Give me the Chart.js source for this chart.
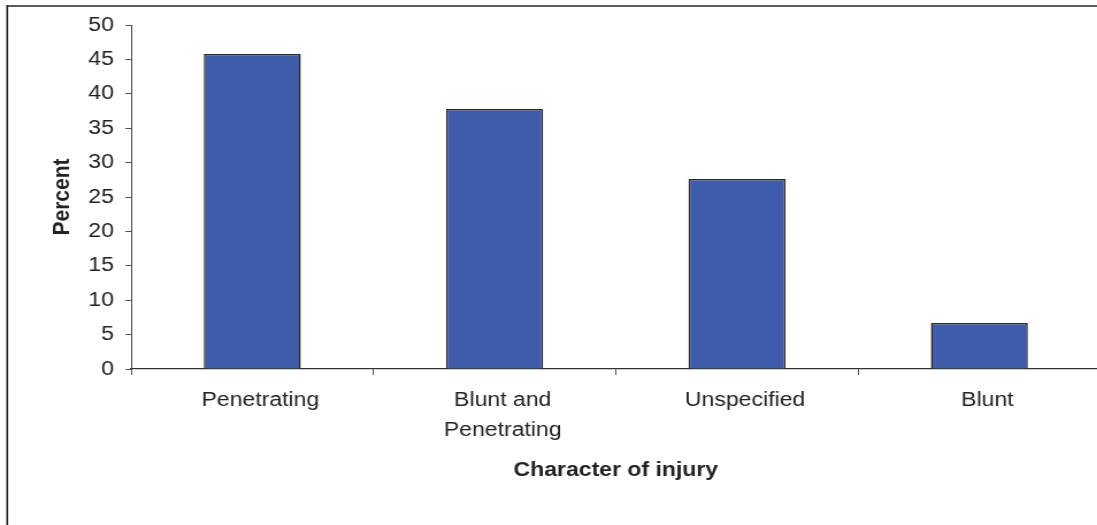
<!DOCTYPE html>
<html>
<head>
<meta charset="utf-8">
<script src="https://cdn.jsdelivr.net/npm/chart.js@4"></script>
<style>
  html, body { margin: 0; padding: 0; background: #fff; overflow: hidden; }
  #page { width: 1097px; height: 525px; overflow: hidden; position: relative; }
  /* the whole figure is drawn slightly wide, so the box is stretched sideways */
  #wrap { width: 960px; height: 525px; transform: scaleX(1.15); transform-origin: 0 0; }
</style>
</head>
<body>
<div id="page">
  <div id="wrap"><canvas id="chart"></canvas></div>
</div>
<script>
// Character of injury, percent of cases
const categories = ['Penetrating', ['Blunt and', 'Penetrating'], 'Unspecified', 'Blunt'];
const percents = [45.8, 37.8, 27.6, 6.7];
const yMin = 0;
const yMax = 50;
const yStep = 5;

const FONT = "'Liberation Sans', Arial, sans-serif";

// Outer frame: top and left edges only (the rest runs off the page)
const framePlugin = {
  id: 'frame',
  beforeDraw(chart) {
    const { ctx, width, height } = chart;
    ctx.save();
    ctx.lineWidth = 2;
    ctx.strokeStyle = '#5a5a5a';
    ctx.beginPath();
    ctx.moveTo(6, 6);
    ctx.lineTo(width, 6);
    ctx.stroke();
    ctx.strokeStyle = '#222';
    ctx.lineWidth = 1.6;
    ctx.beginPath();
    ctx.moveTo(6.3, 5);
    ctx.lineTo(6.3, height);
    ctx.stroke();
    ctx.restore();
  },
};

new Chart(document.getElementById('chart'), {
  type: 'bar',
  data: {
    labels: categories,
    datasets: [{
      label: 'Percent',
      data: percents,
      backgroundColor: '#3f5ba9',
      borderColor: '#2b2b2b',
      borderWidth: 1.5,
      barPercentage: 1,
      categoryPercentage: 0.4,
    }],
  },
  options: {
    responsive: true,
    maintainAspectRatio: false,
    animation: false,
    devicePixelRatio: 1,
    layout: { padding: { top: 25, left: 0, right: 3, bottom: 0 } },
    plugins: {
      legend: { display: false },
      tooltip: { enabled: false },
    },
    scales: {
      x: {
        offset: true,
        grid: { offset: true, drawOnChartArea: false, tickLength: 6, color: '#555', lineWidth: 1 },
        border: { color: '#333', width: 1.3 },
        ticks: {
          color: '#222',
          padding: 10,
          labelOffset: 7,
          font: { family: FONT, size: 20, lineHeight: 1.5 },
          maxRotation: 0,
        },
        title: {
          display: true,
          text: 'Character of injury',
          color: '#222',
          font: { family: FONT, size: 20, weight: 'bold', lineHeight: 1.2 },
          padding: { top: 0, bottom: 43 },
        },
        afterFit(scale) { scale.height = 156; },
      },
      y: {
        min: yMin,
        max: yMax,
        grid: { drawOnChartArea: false, tickLength: 5, color: '#555', lineWidth: 1 },
        border: { color: '#444', width: 1 },
        ticks: { stepSize: yStep, color: '#222', padding: 10, font: { family: FONT, size: 20 } },
        title: {
          display: true,
          text: 'Percent',
          color: '#222',
          font: { family: FONT, size: 21, weight: 'bold', lineHeight: 1.2 },
          padding: { top: 41.3, bottom: 0 },
        },
        afterFit(scale) { scale.width = 114; },
      },
    },
  },
  plugins: [framePlugin],
});
</script>
</body>
</html>
